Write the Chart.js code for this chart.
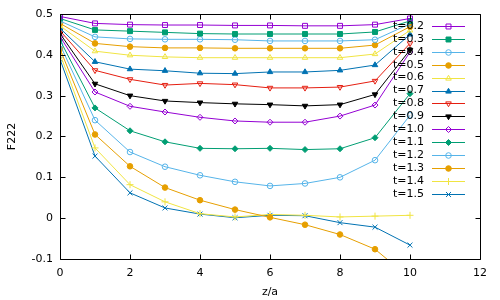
<!DOCTYPE html>
<html>
<head>
<meta charset="utf-8">
<script src="https://cdn.jsdelivr.net/npm/chart.js@4/dist/chart.umd.min.js"></script>
<style>
    html, body { margin: 0; padding: 0; background: #fff; }
    #wrap { width: 500px; height: 300px; }
</style>
</head>
<body>
<div id="wrap"><canvas id="chartF222"></canvas></div>
<script>
const zA = [0, 1, 2, 3, 4, 5, 6, 7, 8, 9, 10];
const xTicks = [0, 2, 4, 6, 8, 10, 12];
const yTicks = [-0.1, 0, 0.1, 0.2, 0.3, 0.4, 0.5];
const tLabels = ['t=0.2', 't=0.3', 't=0.4', 't=0.5', 't=0.6', 't=0.7', 't=0.8',
                 't=0.9', 't=1.0', 't=1.1', 't=1.2', 't=1.3', 't=1.4', 't=1.5'];

const f02 = [0.494, 0.477, 0.474, 0.473, 0.473, 0.472, 0.472, 0.471, 0.471, 0.474, 0.489];
const f03 = [0.489, 0.461, 0.458, 0.455, 0.452, 0.451, 0.451, 0.451, 0.451, 0.456, 0.483];
const f04 = [0.483, 0.444, 0.439, 0.438, 0.438, 0.437, 0.434, 0.434, 0.434, 0.437, 0.476];
const f05 = [0.477, 0.428, 0.420, 0.417, 0.417, 0.416, 0.416, 0.416, 0.416, 0.424, 0.469];
const f06 = [0.471, 0.409, 0.399, 0.395, 0.393, 0.393, 0.393, 0.393, 0.393, 0.402, 0.460];
const f07 = [0.465, 0.383, 0.365, 0.361, 0.355, 0.354, 0.358, 0.358, 0.362, 0.375, 0.450];
const f08 = [0.459, 0.362, 0.340, 0.326, 0.330, 0.327, 0.319, 0.319, 0.321, 0.336, 0.428];
const f09 = [0.452, 0.329, 0.300, 0.287, 0.283, 0.280, 0.278, 0.275, 0.278, 0.303, 0.412];
const f10 = [0.445, 0.309, 0.274, 0.260, 0.247, 0.238, 0.235, 0.235, 0.250, 0.277, 0.407];
const f11 = [0.436, 0.270, 0.214, 0.187, 0.171, 0.170, 0.171, 0.168, 0.170, 0.197, 0.305];
const f12 = [0.425, 0.240, 0.162, 0.126, 0.105, 0.089, 0.079, 0.085, 0.100, 0.142, 0.252];
const f13 = [0.414, 0.205, 0.127, 0.075, 0.044, 0.021, 0.002, -0.016, -0.040, -0.076, -0.147];
const f14 = [0.402, 0.172, 0.082, 0.040, 0.011, 0.003, 0.009, 0.007, 0.003, 0.005, 0.007];
const f15 = [0.389, 0.152, 0.062, 0.025, 0.010, 0.001, 0.007, 0.006, -0.011, -0.022, -0.066];

const series = [f02, f03, f04, f05, f06, f07, f08, f09, f10, f11, f12, f13, f14, f15];

// gnuplot default line colours, cycling every 8
const palette = ['#9400d3', '#009e73', '#56b4e9', '#e69f00', '#f0e442', '#0072b2', '#e51e10', '#000000'];

// [pointStyle, rotation, filled, radius] following gnuplot pt 4..15, 1, 2
const marks = [
    ['rect', 0, false, 3.5], ['rect', 0, true, 3.5],
    ['circle', 0, false, 2.8], ['circle', 0, true, 2.8],
    ['triangle', 0, false, 3.2], ['triangle', 0, true, 3.2],
    ['triangle', 180, false, 3.2], ['triangle', 180, true, 3.2],
    ['rectRot', 0, false, 3], ['rectRot', 0, true, 3],
    ['circle', 0, false, 2.8], ['circle', 0, true, 2.8],
    ['cross', 0, false, 3.5], ['crossRot', 0, false, 3.5]
];

const FONT = 'DejaVu Sans';

const datasets = series.map((vals, i) => {
    const col = palette[i % palette.length];
    const [style, rot, filled, r] = marks[i];
    return {
        label: tLabels[i],
        data: zA.map((z, k) => ({ x: z, y: vals[k] })),
        borderColor: col,
        backgroundColor: col,
        borderWidth: 1,
        pointStyle: style,
        rotation: rot,
        pointRadius: r,
        pointHoverRadius: r,
        pointBorderWidth: 1,
        pointBorderColor: col,
        pointBackgroundColor: filled ? col : 'rgba(0,0,0,0)',
        tension: 0,
        fill: false
    };
});

// frame with inward ticks on all four sides, like gnuplot
const framePlugin = {
    id: 'framePlugin',
    afterDraw(chart) {
        const { ctx, chartArea: a, scales } = chart;
        const L = Math.round(a.left) + 0.5, R = Math.round(a.right) + 0.5;
        const T = Math.round(a.top) + 0.5, B = Math.round(a.bottom) + 0.5;
        ctx.save();
        ctx.strokeStyle = '#000';
        ctx.lineWidth = 1;
        ctx.beginPath();
        ctx.rect(L, T, R - L, B - T);
        xTicks.forEach(v => {
            const px = Math.round(scales.x.getPixelForValue(v)) + 0.5;
            ctx.moveTo(px, B); ctx.lineTo(px, B - 5);
            ctx.moveTo(px, T); ctx.lineTo(px, T + 5);
        });
        yTicks.forEach(v => {
            const py = Math.round(scales.y.getPixelForValue(v)) + 0.5;
            ctx.moveTo(L, py); ctx.lineTo(L + 5, py);
            ctx.moveTo(R, py); ctx.lineTo(R - 5, py);
        });
        ctx.stroke();
        ctx.restore();
    }
};

// key inside the plot, text left of sample
const keyPlugin = {
    id: 'keyPlugin',
    afterDatasetsDraw(chart) {
        const ctx = chart.ctx;
        ctx.save();
        ctx.font = '11px "' + FONT + '"';
        ctx.textAlign = 'right';
        ctx.textBaseline = 'middle';
        chart.data.datasets.forEach((ds, i) => {
            const y = 26 + i * 12.9;
            ctx.fillStyle = '#000';
            ctx.fillText(ds.label, 424, y);
            ctx.strokeStyle = ds.borderColor;
            ctx.lineWidth = 1;
            ctx.beginPath();
            ctx.moveTo(432, Math.round(y) + 0.5);
            ctx.lineTo(465, Math.round(y) + 0.5);
            ctx.stroke();
            ctx.fillStyle = ds.pointBackgroundColor;
            Chart.helpers.drawPoint(ctx, {
                pointStyle: ds.pointStyle,
                rotation: ds.rotation,
                radius: ds.pointRadius,
                borderWidth: 1
            }, 448.5, Math.round(y) + 0.5);
        });
        ctx.restore();
    }
};

new Chart(document.getElementById('chartF222'), {
    type: 'line',
    data: { datasets },
    options: {
        responsive: true,
        maintainAspectRatio: false,
        animation: false,
        layout: { padding: { top: 14, right: 20, left: 0, bottom: 0 } },
        plugins: {
            legend: { display: false },
            tooltip: { enabled: false }
        },
        scales: {
            x: {
                type: 'linear',
                min: 0, max: 12,
                afterFit: s => { s.height = 41; },
                afterBuildTicks: s => { s.ticks = xTicks.map(v => ({ value: v })); },
                ticks: { color: '#000', padding: 8, font: { family: FONT, size: 11 } },
                grid: { display: false, drawTicks: false },
                border: { display: false },
                title: { display: true, text: 'z/a', color: '#000', font: { family: FONT, size: 11 }, padding: { top: 0, bottom: 1 } }
            },
            y: {
                type: 'linear',
                min: -0.1, max: 0.5,
                afterFit: s => { s.width = 60; },
                afterBuildTicks: s => { s.ticks = yTicks.map(v => ({ value: v })); },
                ticks: {
                    color: '#000', padding: 7, font: { family: FONT, size: 11 },
                    callback: v => String(+v.toFixed(1))
                },
                grid: { display: false, drawTicks: false },
                border: { display: false },
                title: { display: true, text: 'F222', color: '#000', font: { family: FONT, size: 11 }, padding: { top: 6, bottom: 0 } }
            }
        }
    },
    plugins: [framePlugin, keyPlugin]
});
</script>
</body>
</html>
